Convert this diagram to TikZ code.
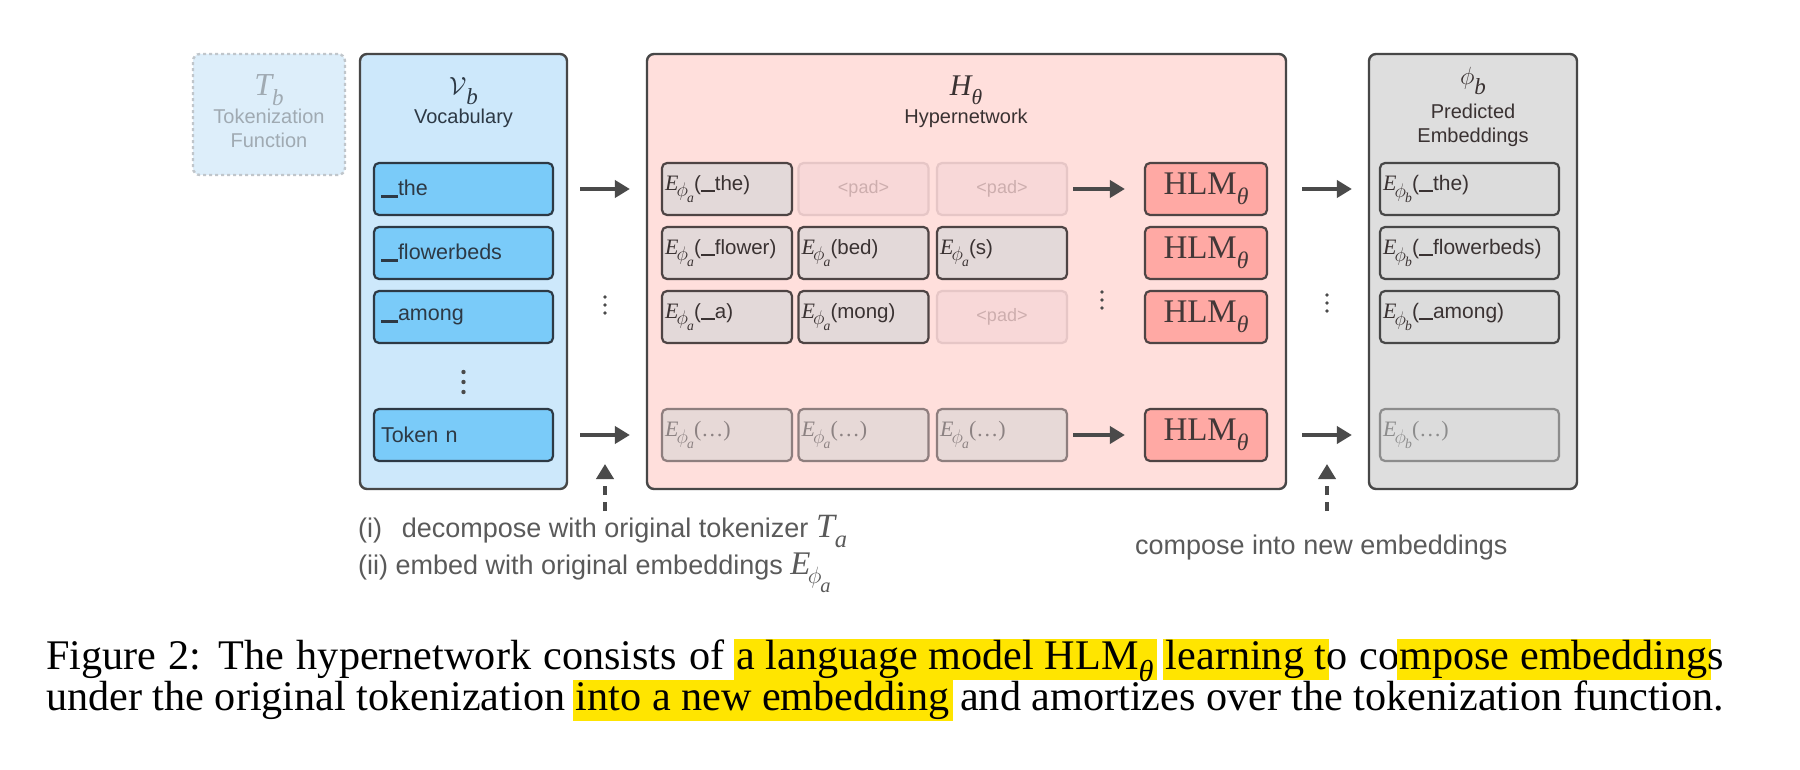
\documentclass[tikz,border=0pt]{standalone}
\usepackage{graphicx}
\usepackage{fontspec}
\setmainfont{Liberation Serif}
\setsansfont{Liberation Sans}
\usetikzlibrary{arrows.meta}
\definecolor{tbfill}{HTML}{DDEEFA}
\definecolor{tbline}{HTML}{C0C6CB}
\definecolor{tbtext}{HTML}{A0AAB2}
\definecolor{vocabfill}{HTML}{CDE8FB}
\definecolor{panelline}{HTML}{474747}
\definecolor{tokfill}{HTML}{7ACBF9}
\definecolor{tokline}{HTML}{2D3945}
\definecolor{hyperfill}{HTML}{FFDFDC}
\definecolor{efill}{HTML}{E3D9D9}
\definecolor{eline}{HTML}{4E4444}
\definecolor{etext}{HTML}{3A3232}
\definecolor{padfill}{HTML}{F8D8D8}
\definecolor{padline}{HTML}{E6C6C6}
\definecolor{padtext}{HTML}{CDAEAE}
\definecolor{fadefill}{HTML}{E7D9D7}
\definecolor{fadeline}{HTML}{8E7E7E}
\definecolor{fadetext}{HTML}{8C8282}
\definecolor{hlmfill}{HTML}{FFA9A4}
\definecolor{hlmtext}{HTML}{433838}
\definecolor{predfill}{HTML}{DEDEDE}
\definecolor{pinner}{HTML}{DCDCDC}
\definecolor{pfade}{HTML}{8C8C8C}
\definecolor{arrcol}{HTML}{4A4A4A}
\definecolor{btext}{HTML}{5A5A5A}
\definecolor{hly}{HTML}{FFE500}
\newcommand\tms{\rmfamily\itshape}
\newcommand\sbx[1]{\raisebox{-0.3em}{\scalebox{0.72}{#1}}}
\newcommand\Esub[1]{{\tms E}\kern-0.08em\raisebox{-0.3em}{\scalebox{0.95}{$\phi$}}\kern-0.04em\raisebox{-0.55em}{\scalebox{0.62}{\tms #1}}}
\newcommand\HLM{{\rmfamily HLM}\sbx{\tms θ}}
\newcommand\ubar{\rule[-2pt]{17pt}{2.6pt}}
\newcommand\ubarE{\rule[-2pt]{14pt}{2.4pt}}
\newcommand\Ea{{\fontsize{22}{22}\selectfont\Esub{a}}}
\newcommand\Eb{{\fontsize{22}{22}\selectfont\Esub{b}}}
\newcommand\dotsx{{\fontsize{22}{22}\selectfont\rmfamily(\ldots)}}
\newcommand\hlx[1]{\setbox0\hbox{#1}\rlap{\kern-3pt\textcolor{hly}{\rule[-0.25em]{\dimexpr\wd0+6pt\relax}{0.97em}}}\box0\relax}
\newlength\capw
\AtBeginDocument{\settowidth\capw{\rmfamily\fontsize{10}{12}\selectfont under the original tokenization into a new embedding and amortizes over the tokenization function.}}
\tikzset{
  panel/.style={line width=2.4pt, rounded corners=7pt, inner sep=0pt},
  sans/.style={font=\sffamily\fontsize{20}{24}\selectfont},
  inbox/.style={line width=2.2pt, rounded corners=5pt, minimum height=52pt, inner ysep=0pt, sans},
  tokbox/.style={inbox, draw=tokline, fill=tokfill, text=tokline, minimum width=179pt, text width=165pt, inner xsep=7pt, align=left, font=\sffamily\fontsize{21.5}{24}\selectfont},
  ebox/.style={inbox, draw=eline, fill=efill, text=etext, minimum width=130pt, text width=124pt, inner xsep=3pt, align=left, font=\sffamily\fontsize{20.5}{22}\selectfont},
  padbox/.style={inbox, draw=padline, fill=padfill, text=padtext, minimum width=130pt, text width=122pt, inner xsep=4pt, align=center, font=\sffamily\fontsize{18}{22}\selectfont},
  fadebox/.style={ebox, draw=fadeline, fill=fadefill, text=fadetext},
  hlmbox/.style={inbox, draw=eline, fill=hlmfill, text=hlmtext, minimum width=122pt, font=\rmfamily\fontsize{33}{33}\selectfont},
  pbox/.style={inbox, draw=panelline, fill=pinner, text=etext, minimum width=179pt, text width=173pt, inner xsep=3pt, align=left, font=\sffamily\fontsize{21}{22}\selectfont},
  pfadebox/.style={pbox, draw=pfade, text=pfade},
  arr/.style={draw=arrcol, line width=4pt, -{Triangle[length=15pt,width=17pt]}},
  darr/.style={arr, dash pattern=on 9pt off 7pt},
  dotc/.style={fill=arrcol, draw=none},
  head/.style={sans, anchor=base},
  btxt/.style={font=\sffamily\fontsize{27}{30}\selectfont, text=btext, anchor=base west, inner sep=0pt},
}
\begin{document}
\begin{tikzpicture}[x=1pt,y=-1pt]
\useasboundingbox (0,0) rectangle (1800,770);
\fill[white] (0,0) rectangle (1800,770);
% panels
\node[panel, draw=tbline, dashed, fill=tbfill, minimum width=152pt, minimum height=121pt] (tb) at (269,114.5) {};
\node[panel, draw=panelline, fill=vocabfill, minimum width=207pt, minimum height=435pt] (vocab) at (463.5,271.5) {};
\node[panel, draw=panelline, fill=hyperfill, minimum width=639pt, minimum height=435pt] (hyper) at (966.5,271.5) {};
\node[panel, draw=panelline, fill=predfill, minimum width=208pt, minimum height=435pt] (pred) at (1473,271.5) {};
% headers
\node[text=tbtext, font=\fontsize{32}{32}\selectfont] (tbm) at (269,90) {{\tms T}\sbx{\tms b}};
\node[head, text=tbtext] (tbl1) at (269,124) {Tokenization};
\node[head, text=tbtext] (tbl2) at (269,148) {Function};
\node[text=tokline, font=\fontsize{32}{32}\selectfont] (vm) at (463.5,91) {$\mathcal{V}$\sbx{\tms b}};
\node[head, text=tokline] (vl) at (463.5,124) {Vocabulary};
\node[text=etext, font=\fontsize{30}{30}\selectfont] (hm) at (966,90) {{\tms H}\sbx{\tms θ}};
\node[head, text=etext] (hl) at (966,124) {Hypernetwork};
\node[text=etext, font=\fontsize{32}{32}\selectfont] (pm) at (1473,81) {$\phi$\sbx{\tms b}};
\node[head, text=etext] (pl1) at (1473,119) {Predicted};
\node[head, text=etext] (pl2) at (1473,143) {Embeddings};
% vocabulary tokens
\node[tokbox] (tok1) at (463.5,189) {\ubar the};
\node[tokbox] (tok2) at (463.5,253) {\ubar flowerbeds};
\node[tokbox] (tok3) at (463.5,317) {\ubar among};
\node[tokbox] (tok4) at (463.5,435) {Token n};
% embeddings
\node[ebox] (e11) at (727,189) {\Ea(\ubarE the)};
\node[padbox] (e12) at (863.5,189) {<pad>};
\node[padbox] (e13) at (1002,189) {<pad>};
\node[ebox] (e21) at (727,253) {\Ea(\ubarE flower)};
\node[ebox] (e22) at (863.5,253) {\Ea(bed)};
\node[ebox] (e23) at (1002,253) {\Ea(s)};
\node[ebox] (e31) at (727,317) {\Ea(\ubarE a)};
\node[ebox] (e32) at (863.5,317) {\Ea(mong)};
\node[padbox] (e33) at (1002,317) {<pad>};
\node[fadebox] (e41) at (727,435) {\Ea\dotsx};
\node[fadebox] (e42) at (863.5,435) {\Ea\dotsx};
\node[fadebox] (e43) at (1002,435) {\Ea\dotsx};
% HLM
\node[hlmbox] (h1) at (1206,189) {\HLM};
\node[hlmbox] (h2) at (1206,253) {\HLM};
\node[hlmbox] (h3) at (1206,317) {\HLM};
\node[hlmbox] (h4) at (1206,435) {\HLM};
% predicted
\node[pbox] (p1) at (1469.5,189) {\Eb(\ubarE the)};
\node[pbox] (p2) at (1469.5,253) {\Eb(\ubarE flowerbeds)};
\node[pbox] (p3) at (1469.5,317) {\Eb(\ubarE among)};
\node[pfadebox] (p4) at (1469.5,435) {\Eb\dotsx};
% arrows
\draw[arr, shorten <=26pt, shorten >=31pt] (tok1) -- (e11);
\draw[arr, shorten <=26pt, shorten >=31pt] (tok4) -- (e41);
\draw[arr, shorten <=5pt, shorten >=19pt] (e13) -- (h1);
\draw[arr, shorten <=5pt, shorten >=19pt] (e43) -- (h4);
\draw[arr, shorten <=34pt, shorten >=27pt] (h1) -- (p1);
\draw[arr, shorten <=34pt, shorten >=27pt] (h4) -- (p4);
% dashed arrows
\coordinate (d1s) at (605,511);
\coordinate (d1t) at (605,464);
\coordinate (d2s) at (1327,511);
\coordinate (d2t) at (1327,464);
\draw[darr] (d1s) -- (d1t);
\draw[darr] (d2s) -- (d2t);
% dots
\foreach \yy in {372,382,392} \fill[dotc] (463.5,\yy) circle (2.2pt);
\foreach \xx/\yc in {605/305, 1102/300, 1327/303}
  \foreach \dd in {-8,0,8} \fill[dotc] (\xx,\yc+\dd) circle (1.8pt);
% bottom texts
\node[btxt] (t1) at (358,537) {(i)\hspace{0.45em} decompose with original tokenizer {\fontsize{34}{34}\selectfont{\tms T}\sbx{\tms a}}};
\node[btxt] (t2) at (358,574) {(ii) embed with original embeddings {\fontsize{33}{33}\selectfont\Esub{a}}};
\node[btxt] (t3) at (1135,554) {compose into new embeddings};
% caption
\pgfmathsetmacro\capsz{1678/\capw*10}
\node[anchor=base west, inner sep=0pt, font=\rmfamily\fontsize{\capsz}{\capsz}\selectfont] (cap1) at (46,669) {\hbox to 1678pt{Figure 2: The hypernetwork consists of \hlx{a language model \HLM} \hlx{learning t}o co\hlx{mpose embedding}s}};
\node[anchor=base west, inner sep=0pt, font=\rmfamily\fontsize{\capsz}{\capsz}\selectfont] (cap2) at (46,710) {\hbox to 1678pt{under the original tokenization \hlx{into a new embedding} and amortizes over the tokenization function.}};
\end{tikzpicture}
\end{document}
